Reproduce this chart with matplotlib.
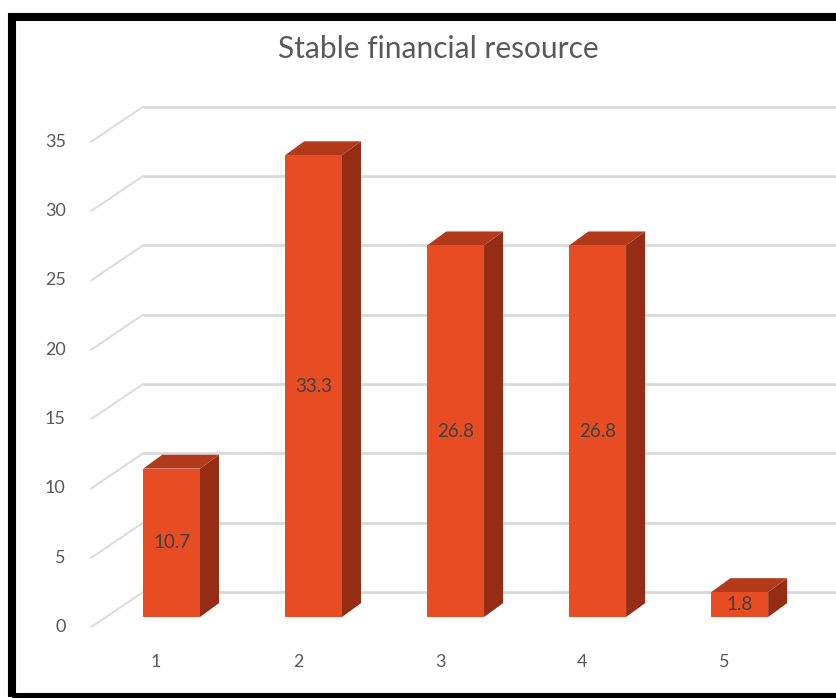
import matplotlib.pyplot as plt
from matplotlib.patches import Polygon, Rectangle

categories = ["1", "2", "3", "4", "5"]
values = [10.7, 33.3, 26.8, 26.8, 1.8]
y_ticks = [0, 5, 10, 15, 20, 25, 30, 35]
title = "Stable financial resource"

FRONT = "#E84C22"
TOP = "#B23A1A"
SIDE = "#942D14"
GRID = "#D9D9D9"
TEXT = "#595959"

# oblique projection offsets (category units, value units)
BAR_W = 0.40
BAR_DX, BAR_DY = 0.134, 1.0      # depth of a column
WALL_DX, WALL_DY = 0.20, 1.8     # back wall relative to column fronts
FLOOR_DX, FLOOR_DY = -0.165, -0.72  # front edge of floor

fig = plt.figure(figsize=(8.36, 6.98), dpi=100)
ax = fig.add_axes([0, 0, 1, 1])
ax.set_xlim(-0.2077, 5.6778)
ax.set_ylim(-5.84, 44.49)
ax.axis("off")

# back wall gridlines with the diagonal run to the floor front
x_wall = 1 - BAR_W / 2
for v in y_ticks:
    ax.plot([x_wall, 6.5], [v + WALL_DY, v + WALL_DY], color=GRID, lw=2, zorder=1,
            solid_capstyle="butt")
    ax.plot([x_wall + FLOOR_DX - WALL_DX, x_wall], [v + FLOOR_DY, v + WALL_DY],
            color=GRID, lw=1.3, zorder=1)
    ax.text(x_wall + FLOOR_DX - WALL_DX - 0.18, v + FLOOR_DY, str(v),
            ha="right", va="center", fontsize=13, color=TEXT, family="Lato")

# 3-D columns
for i, (cat, v) in enumerate(zip(categories, values), start=1):
    x0, x1 = i - BAR_W / 2, i + BAR_W / 2
    ax.add_patch(Polygon([(x1, 0), (x1 + BAR_DX, BAR_DY), (x1 + BAR_DX, v + BAR_DY), (x1, v)],
                         closed=True, fc=SIDE, ec="none", zorder=3))
    ax.add_patch(Polygon([(x0, v), (x1, v), (x1 + BAR_DX, v + BAR_DY), (x0 + BAR_DX, v + BAR_DY)],
                         closed=True, fc=TOP, ec="none", zorder=3))
    ax.add_patch(Rectangle((x0, 0), BAR_W, v, fc=FRONT, ec="none", zorder=4))
    ax.text(i, v / 2, f"{v}", ha="center", va="center", fontsize=13.5,
            color="#404040", family="Lato", zorder=5)
    ax.text(i - 0.11, -3.24, cat, ha="center", va="center", fontsize=13,
            color=TEXT, family="Lato")

fig.text(438 / 836, 1 - 49 / 698, title, ha="center", va="center",
         fontsize=21.5, color=TEXT, family="Lato")

# chart frame
fig.patches.append(Rectangle((12 / 836, 1 / 698), 1.2, (681 - 1) / 698,
                             transform=fig.transFigure, fill=False, ec="black",
                             lw=5.8, zorder=10))

fig.savefig("out.png", dpi=100, facecolor="white")
